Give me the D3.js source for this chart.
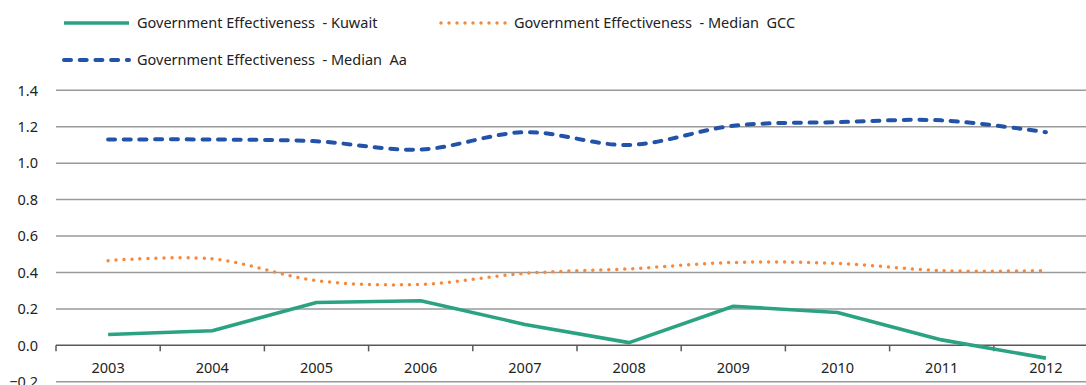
<!DOCTYPE html>
<html>
<head>
<meta charset="utf-8">
<script src="https://cdn.jsdelivr.net/npm/d3@7"></script>
<style>
  html, body { margin: 0; padding: 0; background: #fff; }
  svg { display: block; font-family: "Noto Sans", "Open Sans", sans-serif; }
</style>
</head>
<body>
<svg id="chart" width="1086" height="385"></svg>
<script>
// Government effectiveness indicator, 2003–2012
const years = ["2003", "2004", "2005", "2006", "2007", "2008", "2009", "2010", "2011", "2012"];
const kuwait    = [0.06, 0.08, 0.235, 0.245, 0.115, 0.015, 0.215, 0.18, 0.03, -0.07];
const medianGCC = [0.465, 0.475, 0.355, 0.335, 0.395, 0.42, 0.455, 0.45, 0.41, 0.41];
const medianAa  = [1.13, 1.13, 1.12, 1.075, 1.17, 1.10, 1.205, 1.225, 1.235, 1.17];
const yTicks = [-0.2, 0, 0.2, 0.4, 0.6, 0.8, 1.0, 1.2, 1.4];

const seriesList = [
  { name: "Government Effectiveness  - Kuwait", values: kuwait, color: "#2ba383", width: 3.6, dash: null, cap: "butt", smooth: false },
  { name: "Government Effectiveness  - Median  GCC", values: medianGCC, color: "#f7893a", width: 3.5, dash: "0 8", cap: "round", smooth: true },
  { name: "Government Effectiveness  - Median  Aa", values: medianAa, color: "#2353a8", width: 4, dash: "7 8.7", cap: "round", smooth: true }
];

const fontSize = 14.5;
const svg = d3.select("#chart");
const left = 56, right = 1098;

const x = d3.scaleBand().domain(years).range([left, right]);
const y = d3.scaleLinear().domain([-0.2, 1.4]).range([381.8, 90.3]);

// horizontal gridlines
svg.append("g")
  .selectAll("line")
  .data(yTicks.filter(d => d !== 0))
  .join("line")
  .attr("x1", left).attr("x2", 1086)
  .attr("y1", d => y(d)).attr("y2", d => y(d))
  .attr("stroke", "#9a9a9a").attr("stroke-width", 1.5);

// y-axis labels
svg.append("g")
  .selectAll("text")
  .data(yTicks)
  .join("text")
  .attr("x", 38).attr("y", d => y(d))
  .attr("dy", "0.36em")
  .attr("text-anchor", "end")
  .attr("font-size", fontSize).attr("fill", "#222")
  .text(d => d3.format(".1f")(d));

// x axis at zero, with ticks between categories
const xAxis = svg.append("g").attr("transform", `translate(0,${y(0)})`);
xAxis.append("line")
  .attr("x1", left).attr("x2", 1086)
  .attr("stroke", "#595959").attr("stroke-width", 1.5);
xAxis.selectAll("line.tick")
  .data(years)
  .join("line")
  .attr("class", "tick")
  .attr("x1", d => x(d)).attr("x2", d => x(d))
  .attr("y1", 0).attr("y2", 6)
  .attr("stroke", "#595959").attr("stroke-width", 1.5);
xAxis.selectAll("text")
  .data(years)
  .join("text")
  .attr("x", d => x(d) + x.bandwidth() / 2)
  .attr("y", 22)
  .attr("dy", "0.36em")
  .attr("text-anchor", "middle")
  .attr("font-size", fontSize).attr("fill", "#222")
  .text(d => d);

// series lines
const lineStraight = d3.line().x((d, i) => x(years[i]) + x.bandwidth() / 2).y(d => y(d));
const lineSmooth = d3.line().x((d, i) => x(years[i]) + x.bandwidth() / 2).y(d => y(d))
  .curve(d3.curveCatmullRom.alpha(0));

const drawOrder = [seriesList[1], seriesList[2], seriesList[0]];
svg.append("g")
  .selectAll("path")
  .data(drawOrder)
  .join("path")
  .attr("d", s => (s.smooth ? lineSmooth : lineStraight)(s.values))
  .attr("fill", "none")
  .attr("stroke", s => s.color)
  .attr("stroke-width", s => s.width)
  .attr("stroke-linecap", s => s.cap)
  .attr("stroke-linejoin", "round")
  .attr("stroke-dasharray", s => s.dash);

// legend
const legendPos = [
  { x: 64, y: 23 },
  { x: 441, y: 23 },
  { x: 64, y: 60 }
];
const legend = svg.append("g")
  .selectAll("g")
  .data(seriesList)
  .join("g")
  .attr("transform", (s, i) => `translate(${legendPos[i].x},${legendPos[i].y})`);
legend.append("line")
  .attr("x1", 0).attr("x2", 65)
  .attr("stroke", s => s.color)
  .attr("stroke-width", s => s.width)
  .attr("stroke-linecap", s => s.cap)
  .attr("stroke-dasharray", s => s.dash);
legend.append("text")
  .attr("x", 73).attr("dy", "0.36em")
  .attr("font-size", fontSize).attr("fill", "#222")
  .style("white-space", "pre")
  .text(s => s.name);
</script>
</body>
</html>
